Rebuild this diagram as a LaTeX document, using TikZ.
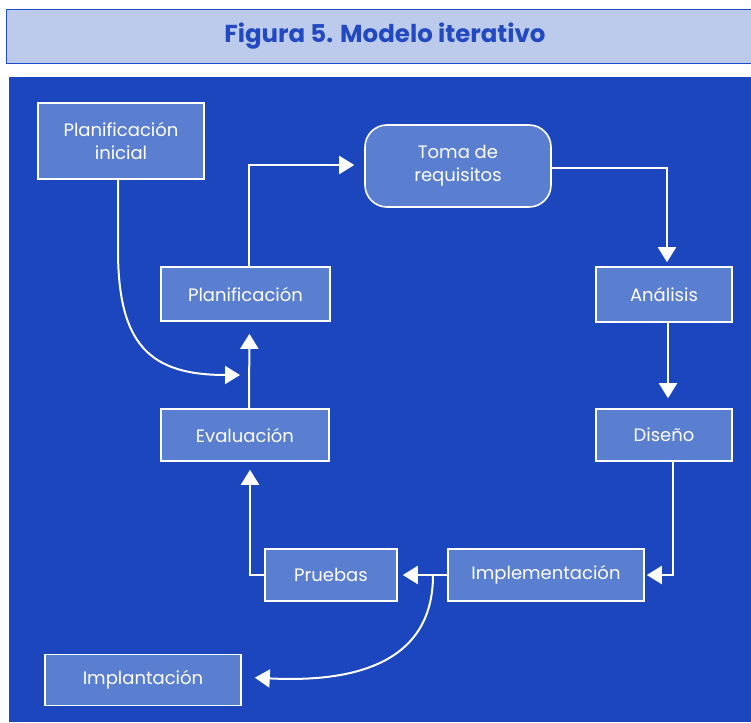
\documentclass[tikz,border=0pt]{standalone}
\usepackage{fontspec}
\setmainfont{Poppins}
\usetikzlibrary{arrows.meta,positioning}
\definecolor{panel}{HTML}{1B46BD}
\definecolor{boxfill}{HTML}{5A7ED0}
\definecolor{titlebg}{HTML}{BCCBEC}
\definecolor{titleborder}{HTML}{1F4CC8}
\definecolor{titletext}{HTML}{2249C0}
\tikzset{
  stepbox/.style={draw=white, line width=1.6pt, fill=boxfill, text=white,
    font=\fontsize{18}{23}\selectfont, align=center, inner sep=0pt},
  conn/.style={draw=white, line width=2pt},
  arr/.style={conn, -{Triangle[width=18pt,length=15pt]}},
}
\begin{document}
\begin{tikzpicture}[x=1pt,y=-1pt]
\useasboundingbox (0,0) rectangle (751,722);
\fill[white] (0,0) rectangle (751,722);
% title
\draw[titleborder, fill=titlebg, line width=1pt] (6,10) rectangle (760,64);
\node[text=titletext, font=\fontsize{24.5}{28}\selectfont\bfseries] (title) at (385,36) {Figura 5. Modelo iterativo};
% panel
\fill[panel] (9,77) rectangle (751,722);
% nodes
\node[stepbox, minimum width=166pt, minimum height=76pt] (pi) at (121,141) {Planificación\\inicial};
\node[stepbox, minimum width=186pt, minimum height=82pt, rounded corners=22pt] (toma) at (458,166) {Toma de\\requisitos};
\node[stepbox, minimum width=169pt, minimum height=54pt] (plan) at (245.5,294) {Planificación};
\node[stepbox, minimum width=136pt, minimum height=55pt] (anal) at (664,294.5) {Análisis};
\node[stepbox, minimum width=168pt, minimum height=52pt] (eval) at (245,435) {Evaluación};
\node[stepbox, minimum width=136pt, minimum height=52pt] (dis) at (664,435) {Diseño};
\node[stepbox, minimum width=132pt, minimum height=52pt] (prue) at (331,575) {Pruebas};
\node[stepbox, minimum width=196pt, minimum height=52pt] (impl) at (546,575) {Implementación};
\node[stepbox, minimum width=196pt, minimum height=51pt] (impla) at (143,680) {Implantación};
\coordinate (jn) at (240,375);
\coordinate (split) at (433,575);
% connectors
\draw[arr, shorten >=10pt] ([xshift=3.5pt]plan.north) |- ([yshift=1pt]toma.west);
\draw[arr, shorten >=4pt] ([yshift=-2pt]toma.east) -| ([xshift=3pt]anal.north);
\draw[arr, shorten >=10pt] ([xshift=4pt]anal.south) -- ([xshift=4pt]dis.north);
\draw[arr, shorten >=2pt] ([xshift=9pt]dis.south) |- (impl.east);
\draw[arr, shorten >=5pt] (impl.west) -- (prue.east);
\draw[arr, shorten >=8pt] (prue.west) -| ([xshift=5pt]eval.south);
\draw[arr, shorten >=12pt] ([xshift=4pt]eval.north) -- ([xshift=4pt]plan.south);
\draw[arr] ([xshift=-3pt]pi.south) -- (118,250) .. controls (118,345) and (150,375) .. (jn);
\draw[arr, shorten >=13pt] (split) .. controls (433,660) and (360,683) .. ([yshift=3pt]impla.east);
\end{tikzpicture}
\end{document}
